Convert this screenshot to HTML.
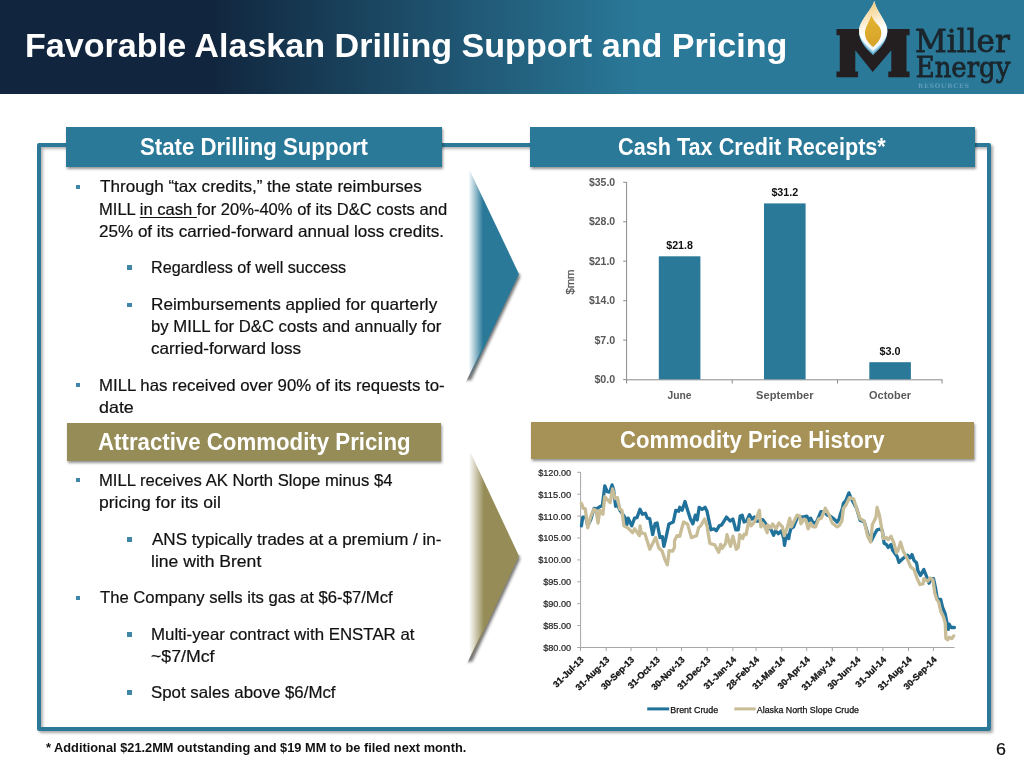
<!DOCTYPE html>
<html lang="en"><head><meta charset="utf-8"><title>Favorable Alaskan Drilling Support and Pricing</title>
<style>
html,body{margin:0;padding:0;background:#fff}
body{width:1024px;height:768px;position:relative;overflow:hidden;font-family:"Liberation Sans",sans-serif}
.hdr{position:absolute;left:0;top:0;width:1024px;height:94px;background:linear-gradient(to right,#11263e 0,#11263e 20.6%,#2a7999 62.6%,#2a7999 100%)}
.frame{position:absolute;left:36.5px;top:143.3px;width:946.5px;height:579.4px;border:4px solid #2c7899;border-radius:2px;box-shadow:2px 2px 3px rgba(0,0,0,.35),inset 2px 2px 3px rgba(0,0,0,.3)}
.box{position:absolute;box-shadow:1px 1.5px 2.5px rgba(0,0,0,.42)}
.t{position:absolute;white-space:nowrap;transform-origin:0 0;margin:0;-webkit-text-stroke:0.2px currentColor}
.title,.sh{-webkit-text-stroke:0}
.t u{text-decoration-thickness:1.4px;text-underline-offset:2px}
.b{position:absolute;width:4.4px;height:4.4px;background:#3f86a8}
svg{position:absolute;left:0;top:0}
</style></head><body>
<div class="hdr"></div>
<div class="frame"></div>
<div class="box" style="left:65.5px;top:126.5px;width:376.5px;height:40.2px;background:#2a7999"></div>
<div class="box" style="left:530px;top:126.5px;width:445px;height:40.2px;background:#2a7999"></div>
<div class="box" style="left:67px;top:423.4px;width:374px;height:37.6px;background:#958c57"></div>
<div class="box" style="left:531px;top:421.5px;width:443px;height:37.6px;background:#a69256"></div>
<svg width="1024" height="768" viewBox="0 0 1024 768">

<defs>
<linearGradient id="ga" gradientUnits="userSpaceOnUse" x1="468.5" y1="0" x2="483" y2="0"><stop offset="0" stop-color="#2a7999" stop-opacity="0"/><stop offset="1" stop-color="#2a7999" stop-opacity="1"/></linearGradient>
<linearGradient id="gb" gradientUnits="userSpaceOnUse" x1="469" y1="0" x2="484" y2="0"><stop offset="0" stop-color="#958c57" stop-opacity="0"/><stop offset="1" stop-color="#958c57" stop-opacity="1"/></linearGradient>
<linearGradient id="gs" gradientUnits="userSpaceOnUse" x1="468" y1="0" x2="492" y2="0"><stop offset="0" stop-color="#000" stop-opacity=".45"/><stop offset="1" stop-color="#000" stop-opacity=".6"/></linearGradient>
<clipPath id="ca"><polygon points="466,381.7 519.5,272 530,272 530,392 466,392"/></clipPath>
<clipPath id="cb"><polygon points="466,665.5 519.5,554 530,554 530,675 466,675"/></clipPath>
<filter id="bl" x="-20%" y="-20%" width="140%" height="140%"><feGaussianBlur stdDeviation="1.5"/></filter>
</defs>
<g clip-path="url(#ca)"><polygon points="460,171 470,171 519,274 470,377.5 460,377.5" fill="#000" fill-opacity=".55" filter="url(#bl)" transform="translate(1.2 2.8)"/></g>
<polygon points="468,171 470,171 519,274 470,377.5 468,377.5" fill="url(#ga)"/>
<g clip-path="url(#cb)"><polygon points="460,453.5 471,453.5 519,556 471,659 460,659" fill="#000" fill-opacity=".55" filter="url(#bl)" transform="translate(1.2 2.8)"/></g>
<polygon points="468,453.5 471,453.5 519,556 471,659 468,659" fill="url(#gb)"/>

<g font-family='"Liberation Sans", sans-serif'>
<path d="M626.6 182 V379.8 H942.5" fill="none" stroke="#8a8a8a" stroke-width="1"/>
<path d="M623.2 182.3 H626.6" stroke="#8a8a8a" stroke-width="1"/>
<text x="615.2" y="186.0" font-size="10" font-weight="700" fill="#595959" text-anchor="end" textLength="26.3" lengthAdjust="spacingAndGlyphs">$35.0</text>
<path d="M623.2 221.8 H626.6" stroke="#8a8a8a" stroke-width="1"/>
<text x="615.2" y="225.4" font-size="10" font-weight="700" fill="#595959" text-anchor="end" textLength="26.3" lengthAdjust="spacingAndGlyphs">$28.0</text>
<path d="M623.2 261.2 H626.6" stroke="#8a8a8a" stroke-width="1"/>
<text x="615.2" y="264.9" font-size="10" font-weight="700" fill="#595959" text-anchor="end" textLength="26.3" lengthAdjust="spacingAndGlyphs">$21.0</text>
<path d="M623.2 300.7 H626.6" stroke="#8a8a8a" stroke-width="1"/>
<text x="615.2" y="304.4" font-size="10" font-weight="700" fill="#595959" text-anchor="end" textLength="26.3" lengthAdjust="spacingAndGlyphs">$14.0</text>
<path d="M623.2 340.1 H626.6" stroke="#8a8a8a" stroke-width="1"/>
<text x="615.2" y="343.8" font-size="10" font-weight="700" fill="#595959" text-anchor="end" textLength="20.8" lengthAdjust="spacingAndGlyphs">$7.0</text>
<path d="M623.2 379.6 H626.6" stroke="#8a8a8a" stroke-width="1"/>
<text x="615.2" y="383.2" font-size="10" font-weight="700" fill="#595959" text-anchor="end" textLength="20.8" lengthAdjust="spacingAndGlyphs">$0.0</text>
<path d="M626.6 379.8 V383.5" stroke="#8a8a8a" stroke-width="1"/>
<path d="M732.2 379.8 V383.5" stroke="#8a8a8a" stroke-width="1"/>
<path d="M837.5 379.8 V383.5" stroke="#8a8a8a" stroke-width="1"/>
<path d="M942 379.8 V383.5" stroke="#8a8a8a" stroke-width="1"/>
<rect x="658.8" y="256.3" width="41.6" height="123.0" fill="#2a7999"/>
<text x="679.5999999999999" y="248.7" font-size="10.3" font-weight="700" fill="#111" text-anchor="middle" textLength="26.8" lengthAdjust="spacingAndGlyphs">$21.8</text>
<text x="679.5999999999999" y="398.7" font-size="11" font-weight="700" fill="#595959" text-anchor="middle" textLength="24" lengthAdjust="spacingAndGlyphs">June</text>
<rect x="764" y="203.4" width="41.6" height="175.9" fill="#2a7999"/>
<text x="784.8" y="195.8" font-size="10.3" font-weight="700" fill="#111" text-anchor="middle" textLength="26.8" lengthAdjust="spacingAndGlyphs">$31.2</text>
<text x="784.8" y="398.7" font-size="11" font-weight="700" fill="#595959" text-anchor="middle" textLength="57.4" lengthAdjust="spacingAndGlyphs">September</text>
<rect x="869.3" y="362.2" width="41.6" height="17.1" fill="#2a7999"/>
<text x="890.0999999999999" y="354.6" font-size="10.3" font-weight="700" fill="#111" text-anchor="middle" textLength="21" lengthAdjust="spacingAndGlyphs">$3.0</text>
<text x="890.0999999999999" y="398.7" font-size="11" font-weight="700" fill="#595959" text-anchor="middle" textLength="42" lengthAdjust="spacingAndGlyphs">October</text>
<text transform="translate(574.3 282) rotate(-90)" font-size="11" font-weight="400" fill="#595959" stroke="#595959" stroke-width="0.3" text-anchor="middle" textLength="25" lengthAdjust="spacingAndGlyphs">$mm</text>
<path d="M580.6 472 V647.5 H954.5" fill="none" stroke="#a6a6a6" stroke-width="1"/>
<path d="M577.2 472.3 H580.6" stroke="#a6a6a6" stroke-width="1"/>
<text x="571.2" y="475.7" font-size="9.2" font-weight="400" fill="#222" text-anchor="end" textLength="33" lengthAdjust="spacingAndGlyphs" stroke="#222" stroke-width="0.2">$120.00</text>
<path d="M577.2 494.2 H580.6" stroke="#a6a6a6" stroke-width="1"/>
<text x="571.2" y="497.6" font-size="9.2" font-weight="400" fill="#222" text-anchor="end" textLength="33" lengthAdjust="spacingAndGlyphs" stroke="#222" stroke-width="0.2">$115.00</text>
<path d="M577.2 516.1 H580.6" stroke="#a6a6a6" stroke-width="1"/>
<text x="571.2" y="519.5" font-size="9.2" font-weight="400" fill="#222" text-anchor="end" textLength="33" lengthAdjust="spacingAndGlyphs" stroke="#222" stroke-width="0.2">$110.00</text>
<path d="M577.2 538.0 H580.6" stroke="#a6a6a6" stroke-width="1"/>
<text x="571.2" y="541.4" font-size="9.2" font-weight="400" fill="#222" text-anchor="end" textLength="33" lengthAdjust="spacingAndGlyphs" stroke="#222" stroke-width="0.2">$105.00</text>
<path d="M577.2 559.9 H580.6" stroke="#a6a6a6" stroke-width="1"/>
<text x="571.2" y="563.3" font-size="9.2" font-weight="400" fill="#222" text-anchor="end" textLength="33" lengthAdjust="spacingAndGlyphs" stroke="#222" stroke-width="0.2">$100.00</text>
<path d="M577.2 581.8 H580.6" stroke="#a6a6a6" stroke-width="1"/>
<text x="571.2" y="585.2" font-size="9.2" font-weight="400" fill="#222" text-anchor="end" textLength="28" lengthAdjust="spacingAndGlyphs" stroke="#222" stroke-width="0.2">$95.00</text>
<path d="M577.2 603.7 H580.6" stroke="#a6a6a6" stroke-width="1"/>
<text x="571.2" y="607.1" font-size="9.2" font-weight="400" fill="#222" text-anchor="end" textLength="28" lengthAdjust="spacingAndGlyphs" stroke="#222" stroke-width="0.2">$90.00</text>
<path d="M577.2 625.6 H580.6" stroke="#a6a6a6" stroke-width="1"/>
<text x="571.2" y="629.0" font-size="9.2" font-weight="400" fill="#222" text-anchor="end" textLength="28" lengthAdjust="spacingAndGlyphs" stroke="#222" stroke-width="0.2">$85.00</text>
<path d="M577.2 647.5 H580.6" stroke="#a6a6a6" stroke-width="1"/>
<text x="571.2" y="650.9" font-size="9.2" font-weight="400" fill="#222" text-anchor="end" textLength="28" lengthAdjust="spacingAndGlyphs" stroke="#222" stroke-width="0.2">$80.00</text>
<path d="M580.5 647.5 V651" stroke="#a6a6a6" stroke-width="1"/>
<text transform="translate(584.3 660.3) rotate(-45)" font-size="9" font-weight="700" fill="#111" stroke="#111" stroke-width="0.3" text-anchor="end">31-Jul-13</text>
<path d="M606.2 647.5 V651" stroke="#a6a6a6" stroke-width="1"/>
<text transform="translate(610.0 660.3) rotate(-45)" font-size="9" font-weight="700" fill="#111" stroke="#111" stroke-width="0.3" text-anchor="end">31-Aug-13</text>
<path d="M631.0 647.5 V651" stroke="#a6a6a6" stroke-width="1"/>
<text transform="translate(634.8 660.3) rotate(-45)" font-size="9" font-weight="700" fill="#111" stroke="#111" stroke-width="0.3" text-anchor="end">30-Sep-13</text>
<path d="M656.7 647.5 V651" stroke="#a6a6a6" stroke-width="1"/>
<text transform="translate(660.5 660.3) rotate(-45)" font-size="9" font-weight="700" fill="#111" stroke="#111" stroke-width="0.3" text-anchor="end">31-Oct-13</text>
<path d="M681.6 647.5 V651" stroke="#a6a6a6" stroke-width="1"/>
<text transform="translate(685.4 660.3) rotate(-45)" font-size="9" font-weight="700" fill="#111" stroke="#111" stroke-width="0.3" text-anchor="end">30-Nov-13</text>
<path d="M707.2 647.5 V651" stroke="#a6a6a6" stroke-width="1"/>
<text transform="translate(711.0 660.3) rotate(-45)" font-size="9" font-weight="700" fill="#111" stroke="#111" stroke-width="0.3" text-anchor="end">31-Dec-13</text>
<path d="M732.9 647.5 V651" stroke="#a6a6a6" stroke-width="1"/>
<text transform="translate(736.7 660.3) rotate(-45)" font-size="9" font-weight="700" fill="#111" stroke="#111" stroke-width="0.3" text-anchor="end">31-Jan-14</text>
<path d="M756.1 647.5 V651" stroke="#a6a6a6" stroke-width="1"/>
<text transform="translate(759.9 660.3) rotate(-45)" font-size="9" font-weight="700" fill="#111" stroke="#111" stroke-width="0.3" text-anchor="end">28-Feb-14</text>
<path d="M781.8 647.5 V651" stroke="#a6a6a6" stroke-width="1"/>
<text transform="translate(785.6 660.3) rotate(-45)" font-size="9" font-weight="700" fill="#111" stroke="#111" stroke-width="0.3" text-anchor="end">31-Mar-14</text>
<path d="M806.7 647.5 V651" stroke="#a6a6a6" stroke-width="1"/>
<text transform="translate(810.5 660.3) rotate(-45)" font-size="9" font-weight="700" fill="#111" stroke="#111" stroke-width="0.3" text-anchor="end">30-Apr-14</text>
<path d="M832.3 647.5 V651" stroke="#a6a6a6" stroke-width="1"/>
<text transform="translate(836.1 660.3) rotate(-45)" font-size="9" font-weight="700" fill="#111" stroke="#111" stroke-width="0.3" text-anchor="end">31-May-14</text>
<path d="M857.2 647.5 V651" stroke="#a6a6a6" stroke-width="1"/>
<text transform="translate(861.0 660.3) rotate(-45)" font-size="9" font-weight="700" fill="#111" stroke="#111" stroke-width="0.3" text-anchor="end">30-Jun-14</text>
<path d="M882.9 647.5 V651" stroke="#a6a6a6" stroke-width="1"/>
<text transform="translate(886.7 660.3) rotate(-45)" font-size="9" font-weight="700" fill="#111" stroke="#111" stroke-width="0.3" text-anchor="end">31-Jul-14</text>
<path d="M908.5 647.5 V651" stroke="#a6a6a6" stroke-width="1"/>
<text transform="translate(912.3 660.3) rotate(-45)" font-size="9" font-weight="700" fill="#111" stroke="#111" stroke-width="0.3" text-anchor="end">31-Aug-14</text>
<path d="M933.4 647.5 V651" stroke="#a6a6a6" stroke-width="1"/>
<text transform="translate(937.2 660.3) rotate(-45)" font-size="9" font-weight="700" fill="#111" stroke="#111" stroke-width="0.3" text-anchor="end">30-Sep-14</text>
<polyline points="581.4,525.9 582.8,517.1 585.8,517.1 587.7,525.9 590.6,520.0 594.1,508.3 596.5,508.8 600.4,506.4 602.4,505.4 604.8,485.9 607.2,491.7 609.7,492.2 612.1,484.9 613.6,489.8 615.6,506.4 617.5,504.4 619.9,510.3 624.8,517.1 626.8,524.9 628.2,518.1 631.7,525.9 634.6,518.1 637.0,517.6 640.0,509.3 642.4,514.2 645.3,513.2 647.3,518.1 649.7,518.6 652.7,534.7 655.1,523.5 657.1,523.0 660.0,537.6 662.4,536.6 663.9,546.4 666.0,537.6 668.9,523.9 673.3,522.0 675.8,510.3 678.7,511.2 679.7,507.3 682.1,510.3 685.0,501.5 687.0,508.3 690.4,519.1 692.9,523.9 695.3,515.2 697.2,520.0 699.2,507.3 702.1,509.3 705.1,507.3 707.0,511.2 710.9,529.8 713.9,528.8 716.3,530.8 719.2,525.9 721.7,524.9 726.5,517.1 730.0,521.0 732.9,519.1 735.8,529.8 738.3,529.8 740.2,516.1 742.2,515.2 744.1,522.0 746.6,521.0 749.5,514.7 751.9,519.1 754.4,517.1 756.0,521.0 759.9,521.0 762.8,519.6 765.8,523.9 770.6,528.8 773.6,535.2 775.5,530.8 778.5,533.7 781.4,530.8 783.8,538.6 784.5,545.4 786.3,534.7 788.7,538.6 789.7,532.7 791.2,527.9 793.6,526.9 795.1,523.0 798.0,516.1 802.9,517.1 806.8,516.1 809.2,521.0 810.7,518.1 812.6,522.0 814.6,523.0 816.5,522.0 819.0,516.1 820.9,511.7 824.4,512.2 827.3,515.2 830.2,516.1 834.1,519.1 837.1,522.0 839.0,519.1 840.5,513.7 842.4,508.3 843.4,503.4 845.8,500.5 848.9,492.9 851.3,498.8 856.5,508.1 860.1,520.4 864.2,521.6 868.9,537.4 871.2,540.9 874.7,533.9 877.1,529.8 880.0,529.2 882.3,530.4 884.1,543.3 886.4,544.5 888.2,547.4 891.1,544.5 892.5,550.0 897.1,556.5 899.0,562.4 902.9,558.5 907.5,555.2 910.1,557.8 912.0,554.6 914.0,560.4 916.6,563.0 917.9,570.8 920.5,575.4 923.8,569.5 926.4,576.0 929.0,583.2 930.9,578.6 933.5,578.6 935.5,587.8 937.4,599.5 940.7,599.5 942.6,607.3 945.2,613.8 946.5,620.3 948.2,629.4 949.2,624.2 951.1,627.5 954.4,627.5" fill="none" stroke="#21729a" stroke-width="3.3" stroke-linejoin="round" stroke-linecap="round"/>
<polyline points="581.4,503.4 583.3,508.3 585.3,508.8 587.7,527.9 590.6,517.1 593.6,509.3 596.0,510.3 598.0,523.0 599.9,510.3 602.9,514.2 604.8,496.6 607.2,499.5 610.2,502.5 612.6,488.8 615.1,498.6 617.5,497.6 619.9,509.3 621.9,510.3 623.9,525.9 627.8,527.9 632.6,532.7 634.6,528.8 639.5,535.7 640.0,525.9 641.3,533.0 644.9,533.7 649.8,549.3 655.6,537.6 658.9,548.0 662.1,551.2 664.7,559.1 667.3,564.9 668.6,555.2 669.0,550.6 672.6,551.2 674.5,547.3 674.5,540.8 677.1,535.6 679.7,536.3 681.7,528.5 683.6,522.0 687.5,523.9 691.4,537.6 696.6,535.6 698.6,527.8 700.7,525.9 704.6,519.1 707.0,525.9 709.9,543.5 714.8,544.9 718.7,552.3 720.7,544.5 722.2,548.4 725.6,543.5 727.0,534.7 730.5,546.4 732.9,536.2 736.3,549.3 738.3,547.4 739.7,534.7 742.7,538.6 744.1,534.2 746.1,534.7 749.0,519.1 751.0,525.9 752.9,523.9 756.0,519.1 759.4,510.3 760.9,526.9 762.3,523.0 764.3,525.9 767.2,532.7 767.7,524.9 770.6,527.9 772.6,523.9 776.0,528.8 778.9,523.0 782.4,526.9 784.3,535.7 787.2,527.9 789.7,518.1 791.2,526.9 793.6,522.0 797.0,515.2 799.9,516.1 800.9,523.9 803.9,519.1 805.8,520.0 808.2,528.8 810.7,523.0 813.1,526.9 815.6,526.9 818.5,519.1 821.4,518.1 825.3,508.3 829.2,515.2 832.2,523.0 837.1,526.9 839.0,525.9 841.9,521.0 843.4,508.3 845.8,505.4 849.5,497.6 853.6,498.8 856.5,508.1 860.1,518.7 864.2,521.0 867.7,536.3 870.6,542.1 872.4,524.5 875.9,517.5 877.1,507.5 879.4,515.2 883.5,538.6 886.4,537.4 888.2,539.8 891.1,536.3 894.0,543.3 896.4,552.7 898.2,550.3 900.5,542.1 903.4,551.5 906.8,557.8 910.7,566.9 914.0,569.5 917.2,578.6 919.9,584.5 923.1,583.9 923.8,578.6 927.7,581.2 930.3,578.0 932.9,579.9 934.8,593.0 936.8,599.5 938.7,602.1 940.7,611.2 943.3,616.4 945.2,622.9 945.9,638.5 947.8,639.8 949.2,637.2 951.8,638.5 953.7,635.9" fill="none" stroke="#c9bd98" stroke-width="3.3" stroke-linejoin="round" stroke-linecap="round"/>
<path d="M647.2 708.9 H669.2" stroke="#21729a" stroke-width="3"/>
<text x="670.3" y="713" font-size="9" font-weight="400" fill="#111" text-anchor="start" textLength="47.9" lengthAdjust="spacingAndGlyphs" stroke="#111" stroke-width="0.25">Brent Crude</text>
<path d="M734.3 708.9 H755.7" stroke="#c9bd98" stroke-width="3"/>
<text x="756.8" y="713" font-size="9" font-weight="400" fill="#111" text-anchor="start" textLength="102.2" lengthAdjust="spacingAndGlyphs" stroke="#111" stroke-width="0.25">Alaska North Slope Crude</text>
</g>

<g>
<defs>
<linearGradient id="fw" x1="0.35" y1="0" x2="0.55" y2="1"><stop offset="0" stop-color="#f3c878"/><stop offset="0.25" stop-color="#f8deaa"/><stop offset="0.5" stop-color="#fcf5e8"/><stop offset="0.65" stop-color="#ffffff"/><stop offset="1" stop-color="#eef7fb"/></linearGradient>
<linearGradient id="fg" x1="0" y1="0" x2="0" y2="1"><stop offset="0" stop-color="#e4b430"/><stop offset="1" stop-color="#d6a22a"/></linearGradient>
</defs>
<polygon fill="#231f20" points="836.5,29.1 858.9,29.1 872.7,55.1 887.1,29.1 909.6,29.1 909.6,35.3 906.5,35.3 906.5,71.6 909.6,71.6 909.6,77.2 888.3,77.2 888.3,71.6 891.3,71.6 891.3,50.3 872.7,71.9 855.3,50.3 855.3,71.6 858.1,71.6 858.1,77.2 836.5,77.2 836.5,71.6 839.8,71.6 839.8,35.3 836.5,35.3"/>
<path fill="#5fa9cd" d="M874.3,0.8 C875.3,7 880,13.5 883.3,19.5 C886,24.5 887.3,28 887.3,32 C887.3,41 880,49 873.1,54.9 C866,49 859,41 859,32 C859,27 861,22.5 864.5,17.2 C868,12 872.5,7 874.3,0.8 Z"/>
<path fill="#a9d6ea" d="M874.3,0.8 C875.3,7 880,13.5 883.3,19.5 C886,24.5 887.3,27.5 887.3,31.3 C887.3,40 880,47.3 873.1,52.8 C866,47.3 859,40 859,31.3 C859,26.5 861,22.5 864.5,17.2 C868,12 872.5,7 874.3,0.8 Z"/>
<path fill="url(#fw)" d="M874.3,0.8 C875.3,7 880,13.5 883.3,19.5 C886,24.5 887.3,27 887.3,30.5 C887.3,38.5 880,45.2 873.1,50.4 C866,45.2 859,38.5 859,30.5 C859,26 861,22.5 864.5,17.2 C868,12 872.5,7 874.3,0.8 Z"/>
<path fill="url(#fg)" d="M871.5,15.2 C872.5,19 876,23 878.6,25.8 C880.5,28 881.3,30.5 881.3,33 C881.3,39 877,44 873.1,46.9 C869,44 864.9,39 864.9,33 C864.9,28 869.5,21 871.5,15.2 Z"/>
<g font-family='"DejaVu Serif", "Liberation Serif", serif' fill="#1b262c" stroke="#1b262c" stroke-width="0.8">
<text x="915.1" y="52.3" font-size="31" textLength="94.7" lengthAdjust="spacingAndGlyphs">Miller</text>
<text x="915.7" y="77.4" font-size="27.2" textLength="94.7" lengthAdjust="spacingAndGlyphs">Energy</text>
<text x="918" y="88.2" font-size="6.3" font-weight="700" fill="#5f9bb9" stroke="none" textLength="51" lengthAdjust="spacing">RESOURCES</text>
</g>
</g>
</svg>
<div class="b" style="left:76px;top:184.7px"></div>
<div class="b" style="left:127.2px;top:265.2px"></div>
<div class="b" style="left:127.2px;top:302.7px"></div>
<div class="b" style="left:75.8px;top:383px"></div>
<div class="b" style="left:76px;top:478px"></div>
<div class="b" style="left:127.2px;top:537.2px"></div>
<div class="b" style="left:76px;top:595.6px"></div>
<div class="b" style="left:127.2px;top:632.2px"></div>
<div class="b" style="left:127.2px;top:690.4px"></div>
<div class="t title" id="t0" style="left:25.3px;top:26.0px;font-size:33.4px;line-height:40.08px;font-weight:700;color:#fff;transform:scaleX(1.0213);">Favorable Alaskan Drilling Support and Pricing</div>
<div class="t sh" id="t1" style="left:140.1px;top:133.9px;font-size:23px;line-height:27.6px;font-weight:700;color:#fff;transform:scaleX(0.9645);">State Drilling Support</div>
<div class="t sh" id="t2" style="left:618.1px;top:134.2px;font-size:23px;line-height:27.6px;font-weight:700;color:#fff;transform:scaleX(0.9409);">Cash Tax Credit Receipts*</div>
<div class="t sh" id="t3" style="left:98.1px;top:429.4px;font-size:23px;line-height:27.6px;font-weight:700;color:#fff;transform:scaleX(0.9671);">Attractive Commodity Pricing</div>
<div class="t sh" id="t4" style="left:620.1px;top:426.8px;font-size:23px;line-height:27.6px;font-weight:700;color:#fff;transform:scaleX(0.9630);">Commodity Price History</div>
<div class="t " id="t5" style="left:100.0px;top:177.0px;font-size:16.5px;line-height:19.8px;font-weight:400;color:#111;transform:scaleX(1.0355);">Through “tax credits,” the state reimburses</div>
<div class="t " id="t6" style="left:99.1px;top:200.0px;font-size:16.5px;line-height:19.8px;font-weight:400;color:#111;transform:scaleX(1.0033);">MILL <u>in cash </u>for 20%-40% of its D&amp;C costs and</div>
<div class="t " id="t7" style="left:99.1px;top:222.0px;font-size:16.5px;line-height:19.8px;font-weight:400;color:#111;transform:scaleX(1.0337);">25% of its carried-forward annual loss credits.</div>
<div class="t " id="t8" style="left:150.7px;top:258.0px;font-size:16.5px;line-height:19.8px;font-weight:400;color:#111;transform:scaleX(0.9808);">Regardless of well success</div>
<div class="t " id="t9" style="left:150.7px;top:295.0px;font-size:16.5px;line-height:19.8px;font-weight:400;color:#111;transform:scaleX(1.0404);">Reimbursements applied for quarterly</div>
<div class="t " id="t10" style="left:150.7px;top:317.0px;font-size:16.5px;line-height:19.8px;font-weight:400;color:#111;transform:scaleX(1.0133);">by MILL for D&amp;C costs and annually for</div>
<div class="t " id="t11" style="left:150.7px;top:339.0px;font-size:16.5px;line-height:19.8px;font-weight:400;color:#111;transform:scaleX(1.0365);">carried-forward loss</div>
<div class="t " id="t12" style="left:99.1px;top:376.0px;font-size:16.5px;line-height:19.8px;font-weight:400;color:#111;transform:scaleX(1.0175);">MILL has received over 90% of its requests to-</div>
<div class="t " id="t13" style="left:99.1px;top:398.0px;font-size:16.5px;line-height:19.8px;font-weight:400;color:#111;transform:scaleX(1.0833);">date</div>
<div class="t " id="t14" style="left:99.1px;top:471.0px;font-size:16.5px;line-height:19.8px;font-weight:400;color:#111;transform:scaleX(1.0082);">MILL receives AK North Slope minus $4</div>
<div class="t " id="t15" style="left:99.1px;top:493.0px;font-size:16.5px;line-height:19.8px;font-weight:400;color:#111;transform:scaleX(1.0626);">pricing for its oil</div>
<div class="t " id="t16" style="left:151.6px;top:530.0px;font-size:16.5px;line-height:19.8px;font-weight:400;color:#111;transform:scaleX(1.0316);">ANS typically trades at a premium / in-</div>
<div class="t " id="t17" style="left:150.7px;top:552.0px;font-size:16.5px;line-height:19.8px;font-weight:400;color:#111;transform:scaleX(1.0640);">line with Brent</div>
<div class="t " id="t18" style="left:100.0px;top:588.0px;font-size:16.5px;line-height:19.8px;font-weight:400;color:#111;transform:scaleX(1.0098);">The Company sells its gas at $6-$7/Mcf</div>
<div class="t " id="t19" style="left:150.7px;top:625.0px;font-size:16.5px;line-height:19.8px;font-weight:400;color:#111;transform:scaleX(1.0202);">Multi-year contract with ENSTAR at</div>
<div class="t " id="t20" style="left:150.7px;top:647.0px;font-size:16.5px;line-height:19.8px;font-weight:400;color:#111;transform:scaleX(1.0739);">~$7/Mcf</div>
<div class="t " id="t21" style="left:150.7px;top:683.0px;font-size:16.5px;line-height:19.8px;font-weight:400;color:#111;transform:scaleX(1.0213);">Spot sales above $6/Mcf</div>
<div class="t sh" id="t22" style="left:45.6px;top:740.0px;font-size:13px;line-height:15.6px;font-weight:700;color:#111;transform:scaleX(0.9841);">* Additional $21.2MM outstanding and $19 MM to be filed next month.</div>
<div class="t " id="t23" style="left:996.1px;top:740.0px;font-size:16.5px;line-height:19.8px;font-weight:400;color:#111;transform:scaleX(1.0841);">6</div>
</body></html>
